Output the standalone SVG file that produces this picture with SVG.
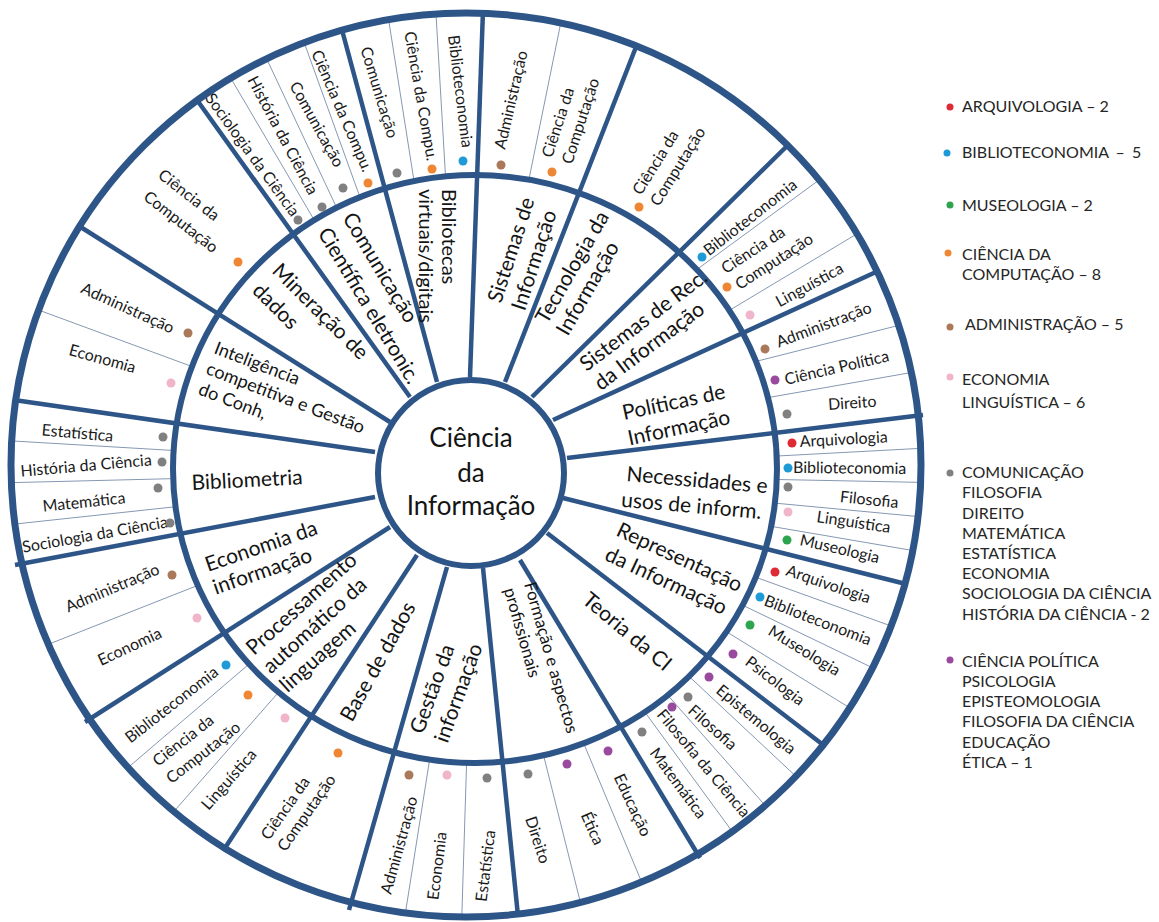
<svg xmlns="http://www.w3.org/2000/svg" width="1159" height="922" viewBox="0 0 1159 922">
<style>
.ring{fill:none;stroke:#2D5587;stroke-width:6}
.spoke{stroke:#2D5587;stroke-width:4.5}
.thin{stroke:#8598B2;stroke-width:1}
.topic{font-family:Lato,'Open Sans',sans-serif;font-size:21px;fill:#141414}
.lbl{font-family:Lato,'Open Sans',sans-serif;font-size:16px;fill:#1a1a1a}
.leg{font-family:Lato,'Open Sans',sans-serif;font-size:16px;fill:#262626}
.ctr{font-family:Lato,'Open Sans',sans-serif;font-size:26px;fill:#141414;text-anchor:middle}
.mid{text-anchor:middle}
.end{text-anchor:end}
.arq{fill:#DD2A34}.bib{fill:#1E9BD7}.mus{fill:#2DA44E}.cc{fill:#EE8633}.adm{fill:#A9795A}.eco{fill:#F1B5CB}.com{fill:#808080}.pol{fill:#9A4A9E}
</style>
<defs>
<clipPath id="annulus"><path clip-rule="evenodd" d="M11,465 a455,452 0 1,0 910,0 a455,452 0 1,0 -910,0 Z M173,469 a302,294 0 1,0 604,0 a302,294 0 1,0 -604,0 Z"/></clipPath>
</defs>
<rect width="1159" height="922" fill="#fff"/>
<g id="connectors">
<g id="spokes">
<line class="spoke" x1="437" y1="382" x2="342" y2="30"/>
<line class="spoke" x1="470" y1="377" x2="483" y2="10"/>
<line class="spoke" x1="505" y1="382" x2="636" y2="47"/>
<line class="spoke" x1="532" y1="397" x2="787" y2="146"/>
<line class="spoke" x1="553" y1="420" x2="876" y2="272"/>
<line class="spoke" x1="567" y1="458" x2="923" y2="415"/>
<line class="spoke" x1="563" y1="498" x2="906" y2="584"/>
<line class="spoke" x1="547" y1="533" x2="822" y2="744"/>
<line class="spoke" x1="520" y1="560" x2="700" y2="858"/>
<line class="spoke" x1="483" y1="568" x2="518" y2="916"/>
<line class="spoke" x1="447" y1="567" x2="349" y2="910"/>
<line class="spoke" x1="417" y1="555" x2="223" y2="851"/>
<line class="spoke" x1="390" y1="527" x2="85" y2="722"/>
<line class="spoke" x1="375" y1="497" x2="15" y2="565"/>
<line class="spoke" x1="375" y1="452" x2="14" y2="400"/>
<line class="spoke" x1="390" y1="422" x2="79" y2="226"/>
<line class="spoke" x1="410" y1="397" x2="197" y2="100"/>
</g>
<g id="subdividers" clip-path="url(#annulus)">
<line class="thin" x1="323.6" y1="236" x2="227" y2="71.8"/>
<line class="thin" x1="344.7" y1="224.8" x2="264.3" y2="53.8"/>
<line class="thin" x1="365.9" y1="213.6" x2="301.7" y2="35.7"/>
<line class="thin" x1="416.8" y1="198.7" x2="387.2" y2="10.6"/>
<line class="thin" x1="446.6" y1="194.9" x2="435.4" y2="3.8"/>
<line class="thin" x1="524.9" y1="199.3" x2="562.1" y2="16.3"/>
<line class="thin" x1="691.8" y1="273.2" x2="826.2" y2="174.8"/>
<line class="thin" x1="723.5" y1="313.9" x2="861.5" y2="231.1"/>
<line class="thin" x1="748.5" y1="363.3" x2="906.5" y2="323.4"/>
<line class="thin" x1="760" y1="399" x2="920" y2="371"/>
<line class="thin" x1="758.9" y1="457" x2="930.9" y2="447.8"/>
<line class="thin" x1="757.2" y1="479.1" x2="927.4" y2="482.5"/>
<line class="thin" x1="755.6" y1="501.3" x2="923.8" y2="517.1"/>
<line class="thin" x1="753.9" y1="523.4" x2="920.3" y2="551.8"/>
<line class="thin" x1="738.4" y1="571" x2="895.3" y2="627.5"/>
<line class="thin" x1="724.6" y1="596.5" x2="874" y2="668.5"/>
<line class="thin" x1="710.7" y1="622" x2="852.6" y2="709.6"/>
<line class="thin" x1="675.9" y1="664.1" x2="800.1" y2="780.2"/>
<line class="thin" x1="655" y1="680.8" x2="769" y2="809.8"/>
<line class="thin" x1="634.1" y1="697.4" x2="737.9" y2="839.3"/>
<line class="thin" x1="576" y1="725.1" x2="644.4" y2="888.6"/>
<line class="thin" x1="538.7" y1="735.9" x2="581.9" y2="908.4"/>
<line class="thin" x1="467.2" y1="743.5" x2="461.5" y2="926.2"/>
<line class="thin" x1="432.7" y1="740" x2="403.6" y2="924.4"/>
<line class="thin" x1="292.3" y1="676.6" x2="169" y2="817"/>
<line class="thin" x1="264.9" y1="650.5" x2="121.8" y2="772.9"/>
<line class="thin" x1="217.5" y1="577.6" x2="38" y2="648.4"/>
<line class="thin" x1="196.2" y1="504.5" x2="1.5" y2="525.5"/>
<line class="thin" x1="195.2" y1="478.1" x2="1.3" y2="482.9"/>
<line class="thin" x1="194.1" y1="451.7" x2="1.2" y2="440.3"/>
<line class="thin" x1="212.3" y1="374" x2="34.7" y2="308.6"/>
</g>
<g id="rings">
<ellipse class="ring" cx="466" cy="465" rx="455" ry="452" style="stroke-width:7"/>
<ellipse class="ring" cx="475" cy="469" rx="302" ry="294"/>
</g>
</g>
<g id="center">
<circle cx="471" cy="473" r="93" fill="#fff" stroke="#2D5587" stroke-width="6"/>
<text class="ctr" x="471" y="447">Ciência</text>
<text class="ctr" x="471" y="482">da</text>
<text class="ctr" x="471" y="515">Informação</text>
</g>
<g id="topics">
<g id="topic-bibliotecas"><text class="topic" style="font-size:20px" transform="translate(442,189) rotate(90)"><tspan x="0" y="0">Bibliotecas</tspan><tspan x="0" y="23">virtuais/digitais</tspan></text></g>
<g id="topic-sistemas"><text class="topic" transform="translate(501,304) rotate(-72)"><tspan x="0" y="0">Sistemas de</tspan><tspan x="0" y="25">Informação</tspan></text></g>
<g id="topic-tecnologia"><text class="topic" transform="translate(547,325) rotate(-60)"><tspan x="0" y="0">Tecnologia da</tspan><tspan x="0" y="24">Informação</tspan></text></g>
<g id="topic-sisrec"><text class="topic" transform="translate(586.5,372) rotate(-37)"><tspan x="0" y="0">Sistemas de Rec.</tspan><tspan x="0" y="24">da Informação</tspan></text></g>
<g id="topic-politicas"><text class="topic" transform="translate(624,420) rotate(-12)"><tspan x="0" y="0">Políticas de</tspan><tspan x="0" y="26">Informação</tspan></text></g>
<g id="topic-necessidades"><text class="topic" transform="translate(626,481) rotate(5)"><tspan x="0" y="0">Necessidades e</tspan><tspan x="-3" y="26">usos de inform.</tspan></text></g>
<g id="topic-representacao"><text class="topic" transform="translate(615,535) rotate(25)"><tspan x="0" y="0">Representação</tspan><tspan x="0" y="27">da Informação</tspan></text></g>
<g id="topic-teoria"><text class="topic" transform="translate(581,602) rotate(40)">Teoria da CI</text></g>
<g id="topic-formacao"><text class="topic" style="font-size:17px" transform="translate(524,584) rotate(74)"><tspan x="0" y="0">Formação e aspectos</tspan><tspan x="0" y="21">profissionais</tspan></text></g>
<g id="topic-gestao"><text class="topic" transform="translate(423,735) rotate(-70)"><tspan x="0" y="0">Gestão da</tspan><tspan x="0" y="26">informação</tspan></text></g>
<g id="topic-base"><text class="topic" transform="translate(352,723) rotate(-61)">Base de dados</text></g>
<g id="topic-processamento"><text class="topic" transform="translate(254,656) rotate(-42)"><tspan x="0" y="0">Processamento</tspan><tspan x="0" y="25">automático da</tspan><tspan x="0" y="50">linguagem</tspan></text></g>
<g id="topic-economia"><text class="topic" transform="translate(208,572) rotate(-19)"><tspan x="0" y="0">Economia da</tspan><tspan x="0" y="24">informação</tspan></text></g>
<g id="topic-bibliometria"><text class="topic" transform="translate(192,490) rotate(-3)">Bibliometria</text></g>
<g id="topic-inteligencia"><text class="topic" style="font-size:18px" transform="translate(213,353) rotate(21)"><tspan x="0" y="0">Inteligência</tspan><tspan x="0" y="22">competitiva e Gestão</tspan><tspan x="0" y="44">do Conh,</tspan></text></g>
<g id="topic-mineracao"><text class="topic" transform="translate(271,272) rotate(45)"><tspan x="0" y="0">Mineração de</tspan><tspan x="0" y="28">dados</tspan></text></g>
<g id="topic-comunicacao"><text class="topic" transform="translate(342,218) rotate(59)"><tspan x="0" y="0">Comunicação</tspan><tspan x="0" y="29">Científica eletronic.</tspan></text></g>
</g>
<g id="outer-labels">
<g id="sec-comunicacao">
<text class="lbl mid" transform="translate(248,158) rotate(54)">Sociologia da Ciência</text>
<text class="lbl mid" transform="translate(278,138) rotate(62)">História da Ciência</text>
<text class="lbl mid" transform="translate(312,127) rotate(61)">Comunicação</text>
<text class="lbl mid" transform="translate(337,113) rotate(66.6)">Ciência da Compu.</text>
<circle class="com" cx="298" cy="220" r="4.5"/><circle class="com" cx="322" cy="207" r="4.5"/><circle class="com" cx="343" cy="188" r="4.5"/><circle class="cc" cx="368" cy="183" r="4.5"/>
</g>
<g id="sec-bibliotecas">
<text class="lbl mid" transform="translate(374,94) rotate(73)">Comunicação</text>
<text class="lbl mid" transform="translate(415.6,97) rotate(80)">Ciência da Compu.</text>
<text class="lbl mid" transform="translate(455,92) rotate(83)">Biblioteconomia</text>
<circle class="com" cx="397" cy="173" r="4.5"/><circle class="cc" cx="432" cy="169" r="4.5"/><circle class="bib" cx="463" cy="161" r="4.5"/>
</g>
<g id="sec-sistemas">
<text class="lbl mid" transform="translate(516.4,101) rotate(-77)">Administração</text>
<text class="lbl" transform="translate(552,158.5) rotate(-72)"><tspan x="0" y="0">Ciência da</tspan><tspan x="0" y="21">Computação</tspan></text>
<circle class="adm" cx="501" cy="165" r="4.5"/><circle class="cc" cx="552" cy="172" r="4.5"/>
</g>
<g id="sec-tecnologia">
<text class="lbl" transform="translate(641,196) rotate(-58)"><tspan x="0" y="0">Ciência da</tspan><tspan x="0" y="21">Computação</tspan></text>
<circle class="cc" cx="639" cy="207" r="4.5"/>
</g>
<g id="sec-sisrec">
<text class="lbl" transform="translate(709,256.5) rotate(-38)">Biblioteconomia</text>
<text class="lbl" transform="translate(725.7,274.2) rotate(-33)"><tspan x="0" y="0">Ciência da</tspan><tspan x="3" y="21">Computação</tspan></text>
<text class="lbl" transform="translate(779.4,307.4) rotate(-28.6)">Linguística</text>
<circle class="bib" cx="702" cy="257" r="4.5"/><circle class="cc" cx="727" cy="287" r="4.5"/><circle class="eco" cx="750" cy="315" r="4.5"/>
</g>
<g id="sec-politicas">
<text class="lbl" transform="translate(778.8,347.7) rotate(-20.8)">Administração</text>
<text class="lbl" transform="translate(786,385) rotate(-13)">Ciência Política</text>
<text class="lbl" transform="translate(828.4,410) rotate(-4)">Direito</text>
<circle class="adm" cx="765" cy="349" r="4.5"/><circle class="pol" cx="775" cy="380" r="4.5"/><circle class="com" cx="787" cy="414" r="4.5"/>
</g>
<g id="sec-necessidades">
<text class="lbl" transform="translate(800,447) rotate(-3)">Arquivologia</text>
<text class="lbl" transform="translate(793,473) rotate(0.5)">Biblioteconomia</text>
<text class="lbl" transform="translate(839.5,502) rotate(6)">Filosofia</text>
<text class="lbl" transform="translate(816,522) rotate(8.5)">Linguística</text>
<text class="lbl" transform="translate(799,545) rotate(13)">Museologia</text>
<circle class="arq" cx="792" cy="443" r="4.5"/><circle class="bib" cx="788" cy="468" r="4.5"/><circle class="com" cx="788" cy="487" r="4.5"/><circle class="eco" cx="788" cy="512" r="4.5"/><circle class="mus" cx="787" cy="540" r="4.5"/>
</g>
<g id="sec-representacao">
<text class="lbl" transform="translate(785,575) rotate(19)">Arquivologia</text>
<text class="lbl" transform="translate(763,605) rotate(21)">Biblioteconomia</text>
<text class="lbl" transform="translate(767,634) rotate(31.6)">Museologia</text>
<text class="lbl" transform="translate(744,664) rotate(37.5)">Psicologia</text>
<circle class="arq" cx="775" cy="572" r="4.5"/><circle class="bib" cx="760" cy="597" r="4.5"/><circle class="mus" cx="750" cy="625" r="4.5"/><circle class="pol" cx="733" cy="654" r="4.5"/>
</g>
<g id="sec-teoria">
<text class="lbl" transform="translate(715,692) rotate(40)">Epistemologia</text>
<text class="lbl" transform="translate(687,712) rotate(41.6)">Filosofia</text>
<text class="lbl" transform="translate(656,715) rotate(50)">Filosofia da Ciência</text>
<text class="lbl" transform="translate(649,753) rotate(53.5)">Matemática</text>
<circle class="pol" cx="709" cy="677" r="4.5"/><circle class="com" cx="688" cy="697" r="4.5"/><circle class="pol" cx="672" cy="707" r="4.5"/><circle class="com" cx="642" cy="732" r="4.5"/>
</g>
<g id="sec-formacao">
<text class="lbl" transform="translate(525,818.5) rotate(72)">Direito</text>
<text class="lbl" transform="translate(580.4,815) rotate(66)">Ética</text>
<text class="lbl" transform="translate(613.5,777) rotate(65)">Educação</text>
<circle class="com" cx="528" cy="774" r="4.5"/><circle class="pol" cx="567" cy="764" r="4.5"/><circle class="pol" cx="608" cy="751" r="4.5"/>
</g>
<g id="sec-gestao">
<text class="lbl end" transform="translate(417.8,798.3) rotate(-74.5)">Administração</text>
<text class="lbl mid" transform="translate(442.5,866.6) rotate(-83)">Economia</text>
<text class="lbl mid" transform="translate(491,866.6) rotate(-83)">Estatística</text>
<circle class="adm" cx="409" cy="775" r="4.5"/><circle class="eco" cx="447" cy="775" r="4.5"/><circle class="com" cx="487" cy="778" r="4.5"/>
</g>
<g id="sec-base">
<text class="lbl" transform="translate(269,841) rotate(-55)"><tspan x="0" y="0">Ciência da</tspan><tspan x="0" y="20">Computação</tspan></text>
<circle class="cc" cx="338" cy="753" r="4.5"/>
</g>
<g id="sec-processamento">
<text class="lbl mid" transform="translate(175,709) rotate(-38)">Biblioteconomia</text>
<text class="lbl" transform="translate(158,767) rotate(-38)"><tspan x="0" y="0">Ciência da</tspan><tspan x="0" y="22">Computação</tspan></text>
<text class="lbl mid" transform="translate(233,783) rotate(-49)">Linguística</text>
<circle class="bib" cx="226" cy="665" r="4.5"/><circle class="cc" cx="248" cy="695" r="4.5"/><circle class="eco" cx="285" cy="718" r="4.5"/>
</g>
<g id="sec-economia">
<text class="lbl mid" transform="translate(114.5,593) rotate(-23)">Administração</text>
<text class="lbl mid" transform="translate(132,651.5) rotate(-25)">Economia</text>
<circle class="adm" cx="172" cy="575" r="4.5"/><circle class="eco" cx="197" cy="618" r="4.5"/>
</g>
<g id="sec-bibliometria">
<text class="lbl mid" transform="translate(77,438.5) rotate(5)">Estatística</text>
<text class="lbl mid" transform="translate(86.5,471) rotate(-5)">História da Ciência</text>
<text class="lbl mid" transform="translate(84.5,507.5) rotate(-6)">Matemática</text>
<text class="lbl mid" transform="translate(96,540) rotate(-10)">Sociologia da Ciência</text>
<circle class="com" cx="163" cy="437" r="4.5"/><circle class="com" cx="162" cy="462" r="4.5"/><circle class="com" cx="158" cy="488" r="4.5"/><circle class="com" cx="170" cy="523" r="4.5"/>
</g>
<g id="sec-inteligencia">
<text class="lbl mid" transform="translate(125.4,313) rotate(24.4)">Administração</text>
<text class="lbl mid" transform="translate(101,364) rotate(15.5)">Economia</text>
<circle class="adm" cx="188" cy="333" r="4.5"/><circle class="eco" cx="171" cy="383" r="4.5"/>
</g>
<g id="sec-mineracao">
<text class="lbl" transform="translate(157,177) rotate(38)"><tspan x="0" y="0">Ciência da</tspan><tspan x="2" y="26">Computação</tspan></text>
<circle class="cc" cx="238" cy="262" r="4.5"/>
</g>
</g>
<g id="legend">
<circle class="arq" cx="950" cy="107" r="3.5"/><text class="leg" x="962" y="112">ARQUIVOLOGIA – 2</text>
<circle class="bib" cx="947" cy="153" r="3.5"/><text class="leg" x="962" y="158" word-spacing="3">BIBLIOTECONOMIA – 5</text>
<circle class="mus" cx="950" cy="205" r="3.5"/><text class="leg" x="962" y="211">MUSEOLOGIA – 2</text>
<circle class="cc" cx="948" cy="253" r="3.5"/><text class="leg"><tspan x="962" y="260">CIÊNCIA DA</tspan><tspan x="962" y="280">COMPUTAÇÃO – 8</tspan></text>
<circle class="adm" cx="950" cy="327" r="3.5"/><text class="leg" x="965" y="330">ADMINISTRAÇÃO – 5</text>
<circle class="eco" cx="950" cy="377" r="3.5"/><text class="leg"><tspan x="962" y="385">ECONOMIA</tspan><tspan x="962" y="408">LINGUÍSTICA – 6</tspan></text>
<circle class="com" cx="950" cy="473" r="3.5"/><text class="leg"><tspan x="962" y="478">COMUNICAÇÃO</tspan><tspan x="962" y="498">FILOSOFIA</tspan><tspan x="962" y="519">DIREITO</tspan><tspan x="962" y="539">MATEMÁTICA</tspan><tspan x="962" y="559">ESTATÍSTICA</tspan><tspan x="962" y="579">ECONOMIA</tspan><tspan x="962" y="599">SOCIOLOGIA DA CIÊNCIA</tspan><tspan x="962" y="620">HISTÓRIA DA CIÊNCIA - 2</tspan></text>
<circle class="pol" cx="950" cy="660" r="3.5"/><text class="leg"><tspan x="962" y="667">CIÊNCIA POLÍTICA</tspan><tspan x="962" y="687">PSICOLOGIA</tspan><tspan x="962" y="707">EPISTEOMOLOGIA</tspan><tspan x="962" y="727">FILOSOFIA DA CIÊNCIA</tspan><tspan x="962" y="748">EDUCAÇÃO</tspan><tspan x="962" y="768">ÉTICA – 1</tspan></text>
</g>
</svg>
